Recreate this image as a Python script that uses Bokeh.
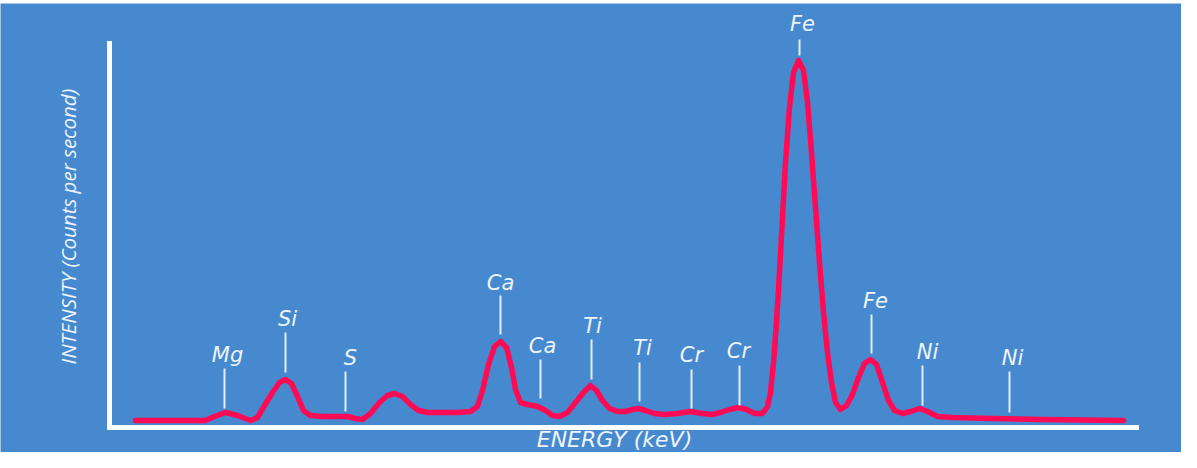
import math
from bokeh.plotting import figure
from bokeh.models import (ColumnDataSource, LabelSet, Label, Range1d, FixedTicker, Spacer,
                          LinearAxis)
from bokeh.layouts import column
from bokeh.core.properties import value
from bokeh.embed import file_html
from bokeh.resources import INLINE

# ---- spectrum (energy in keV, intensity in counts per second) ----
energy = [0.26, 0.63, 0.96, 1.05, 1.16, 1.28, 1.41, 1.48, 1.55, 1.63, 1.70, 1.76, 1.82, 1.88, 1.94,
          2.01, 2.13, 2.28, 2.38, 2.46, 2.53, 2.61, 2.70, 2.78, 2.85, 2.93, 3.01, 3.09, 3.18, 3.33,
          3.48, 3.61, 3.68, 3.73, 3.79, 3.85, 3.91, 3.97, 4.02, 4.06, 4.11, 4.18, 4.28, 4.36, 4.43,
          4.50, 4.58, 4.66, 4.74, 4.81, 4.87, 4.93, 5.00, 5.08, 5.16, 5.23, 5.29, 5.36, 5.45, 5.55,
          5.68, 5.81, 5.93, 6.03, 6.11, 6.20, 6.29, 6.37, 6.45, 6.53, 6.58, 6.61, 6.64, 6.67, 6.70,
          6.73, 6.76, 6.80, 6.84, 6.89, 6.94, 6.98, 7.02, 7.06, 7.10, 7.14, 7.18, 7.22, 7.26, 7.31,
          7.37, 7.43, 7.49, 7.55, 7.61, 7.67, 7.73, 7.79, 7.85, 7.93, 8.01, 8.10, 8.18, 8.28, 8.43,
          8.83, 9.33, 10.14]
intensity = [7, 7, 7, 11, 15, 12, 7, 10, 22, 35, 45, 48, 44, 31, 17,
             12, 11, 11, 11, 9, 8, 14, 25, 32, 34, 31, 23, 17, 15, 15,
             15, 16, 21, 37, 63, 81, 86, 80, 60, 38, 25, 23, 21, 17, 12,
             11, 15, 25, 35, 42, 37, 27, 19, 16, 16, 18, 19, 17, 14, 13,
             14, 16, 14, 13, 15, 18, 20, 18, 14, 14, 21, 35, 65, 105, 155,
             210, 265, 320, 355, 367, 357, 325, 275, 220, 165, 115, 75, 45, 25, 18,
             22, 33, 50, 64, 68, 63, 45, 27, 17, 14, 16, 19, 16, 11, 10,
             9, 8, 7]

# ---- peak annotations ----
elements = ["Mg", "Si", "S", "Ca", "Ca", "Ti", "Ti", "Cr", "Cr", "Fe", "Fe", "Ni", "Ni"]
marker_energy = [1.15, 1.76, 2.36, 3.91, 4.31, 4.82, 5.30, 5.82, 6.30, 6.90, 7.62, 8.13, 9.00]
marker_low = [19, 55, 16, 93, 29, 48, 26, 19, 22, 372, 74, 22, 15]
marker_high = [59, 95, 56, 132, 68, 88, 65, 58, 62, 388, 113, 62, 56]
label_energy = [1.18, 1.78, 2.41, 3.91, 4.33, 4.83, 5.33, 5.82, 6.29, 6.93, 7.66, 8.18, 9.03]
label_level = [73, 109, 70, 145, 82, 102, 80, 73, 77, 404, 127, 76, 70]

# axis extents (data units)
energy_max = 10.27
intensity_max = 384

x_title = "ENERGY (keV)"
y_title = "INTENSITY (Counts per second)"

BLUE = "#4789cf"
RED = "#ff0a55"
WHITE = "#eef4fb"

p = figure(width=1181, height=449, x_range=Range1d(-1.09, 10.72), y_range=Range1d(-25, 424),
           output_backend="svg", toolbar_location=None,
           x_axis_location=None, y_axis_location=None,
           min_border=0, min_border_left=0, min_border_right=0, min_border_top=0,
           min_border_bottom=0,
           background_fill_color=BLUE, border_fill_color=BLUE, outline_line_color=None)
p.xgrid.visible = False
p.ygrid.visible = False

xax = LinearAxis(fixed_location=0, bounds=(0, energy_max))
yax = LinearAxis(fixed_location=0, bounds=(0, intensity_max))
for ax in (xax, yax):
    ax.ticker = FixedTicker(ticks=[])
    ax.axis_line_color = "white"
    ax.axis_line_width = 5
    ax.axis_line_cap = "square"
    ax.major_tick_line_color = None
    ax.minor_tick_line_color = None
    ax.major_label_text_font_size = "0px"
p.add_layout(xax, "below")
p.add_layout(yax, "left")

p.line(energy, intensity, line_color=RED, line_width=5.5, line_join="round", line_cap="round")

p.segment(x0=marker_energy, y0=marker_low, x1=marker_energy, y1=marker_high,
          line_color="#e3edf8", line_width=2)

src = ColumnDataSource(dict(x=label_energy, y=label_level, t=elements))
p.add_layout(LabelSet(x="x", y="y", text="t", source=src, text_align="center",
                      text_baseline="middle", text_font=value("DejaVu Sans"),
                      text_font_style="italic", text_font_size="21px", text_color=WHITE))

p.add_layout(Label(x=-0.42, y=201, text=y_title, angle=math.pi / 2, text_align="center",
                   text_baseline="middle", text_font="Open Sans", text_font_style="italic",
                   text_font_size="20.5px", text_color=WHITE))
p.add_layout(Label(x=5.05, y=-12, text=x_title, text_align="center", text_baseline="middle",
                   text_font="DejaVu Sans", text_font_style="italic", text_font_size="22px",
                   text_color=WHITE))

layout = column(Spacer(width=1181, height=3), p)
open("out.html", "w").write(file_html(layout, INLINE))
